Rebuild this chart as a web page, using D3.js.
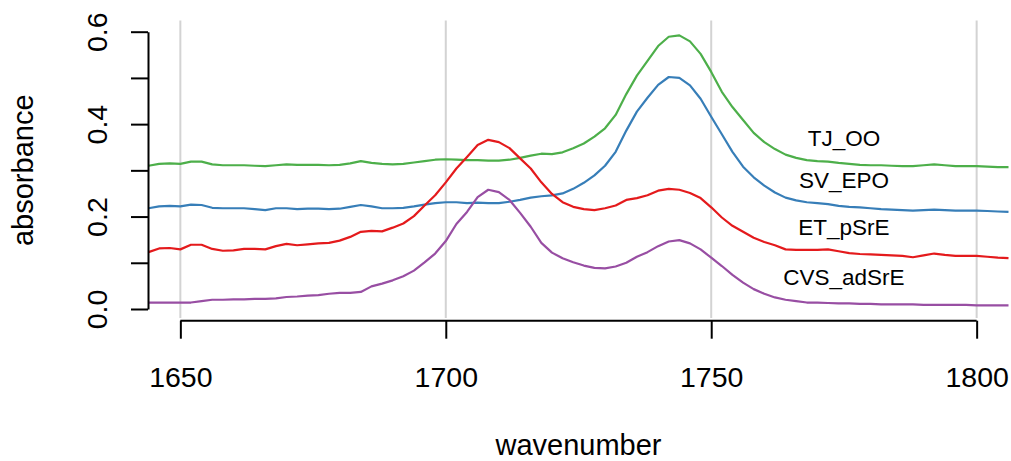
<!DOCTYPE html>
<html>
<head>
<meta charset="utf-8">
<script src="https://cdn.jsdelivr.net/npm/d3@7"></script>
<style>
  html, body { margin: 0; padding: 0; background: #fff; }
  svg { display: block; font-family: "Liberation Sans", Arial, Helvetica, sans-serif; }
</style>
</head>
<body>
<svg id="chart"></svg>
<script>
// wavenumber grid (cm-1)
const wavenumber = [
  1644, 1646, 1648, 1650, 1652, 1654, 1656, 1658, 1660, 1662,
  1664, 1666, 1668, 1670, 1672, 1674, 1676, 1678, 1680, 1682,
  1684, 1686, 1688, 1690, 1692, 1694, 1696, 1698, 1700, 1702,
  1704, 1706, 1708, 1710, 1712, 1714, 1716, 1718, 1720, 1722,
  1724, 1726, 1728, 1730, 1732, 1734, 1736, 1738, 1740, 1742,
  1744, 1746, 1748, 1750, 1752, 1754, 1756, 1758, 1760, 1762,
  1764, 1766, 1768, 1770, 1772, 1774, 1776, 1778, 1780, 1782,
  1784, 1786, 1788, 1790, 1792, 1794, 1796, 1798, 1800, 1802,
  1804, 1806
];

// absorbance of each sample
const TJ_OO = [
  0.310, 0.314, 0.315, 0.314, 0.319, 0.319, 0.313, 0.311, 0.311, 0.311,
  0.310, 0.309, 0.311, 0.313, 0.312, 0.312, 0.312, 0.311, 0.312, 0.315,
  0.320, 0.316, 0.314, 0.313, 0.314, 0.317, 0.320, 0.323, 0.324, 0.323,
  0.322, 0.322, 0.321, 0.321, 0.323, 0.327, 0.332, 0.336, 0.335, 0.339,
  0.348, 0.358, 0.373, 0.391, 0.420, 0.465, 0.505, 0.537, 0.569, 0.589,
  0.592, 0.579, 0.552, 0.513, 0.470, 0.437, 0.409, 0.381, 0.361, 0.346,
  0.334, 0.327, 0.322, 0.320, 0.319, 0.316, 0.314, 0.312, 0.311, 0.311,
  0.310, 0.309, 0.309, 0.311, 0.313, 0.311, 0.309, 0.309, 0.309, 0.308,
  0.307, 0.307
];
const SV_EPO = [
  0.218, 0.222, 0.223, 0.222, 0.226, 0.225, 0.219, 0.218, 0.218, 0.218,
  0.216, 0.214, 0.218, 0.218, 0.216, 0.217, 0.217, 0.216, 0.217, 0.221,
  0.225, 0.222, 0.218, 0.218, 0.219, 0.222, 0.226, 0.229, 0.231, 0.231,
  0.229, 0.230, 0.229, 0.229, 0.232, 0.236, 0.241, 0.244, 0.246, 0.250,
  0.260, 0.273, 0.289, 0.310, 0.340, 0.386, 0.427, 0.457, 0.485, 0.502,
  0.500, 0.484, 0.455, 0.416, 0.378, 0.340, 0.308, 0.285, 0.267, 0.252,
  0.241, 0.235, 0.231, 0.229, 0.227, 0.223, 0.221, 0.220, 0.218, 0.216,
  0.215, 0.214, 0.213, 0.214, 0.215, 0.214, 0.213, 0.213, 0.213, 0.212,
  0.211, 0.210
];
const ET_pSrE = [
  0.123, 0.131, 0.132, 0.129, 0.139, 0.139, 0.130, 0.126, 0.127, 0.130,
  0.130, 0.129, 0.136, 0.141, 0.138, 0.140, 0.142, 0.143, 0.148, 0.156,
  0.167, 0.169, 0.168, 0.176, 0.185, 0.201, 0.224, 0.246, 0.274, 0.304,
  0.329, 0.355, 0.366, 0.361, 0.348, 0.326, 0.304, 0.274, 0.249, 0.231,
  0.221, 0.216, 0.214, 0.218, 0.224, 0.236, 0.240, 0.246, 0.256, 0.260,
  0.258, 0.251, 0.240, 0.220, 0.198, 0.180, 0.167, 0.154, 0.145, 0.138,
  0.129, 0.128, 0.128, 0.128, 0.129, 0.125, 0.121, 0.119, 0.118, 0.117,
  0.116, 0.115, 0.112, 0.116, 0.120, 0.117, 0.115, 0.115, 0.115, 0.113,
  0.111, 0.110
];
const CVS_adSrE = [
  0.014, 0.014, 0.014, 0.014, 0.014, 0.017, 0.020, 0.020, 0.021, 0.021,
  0.022, 0.022, 0.023, 0.026, 0.027, 0.029, 0.030, 0.033, 0.035, 0.035,
  0.037, 0.049, 0.055, 0.062, 0.071, 0.083, 0.101, 0.120, 0.147, 0.184,
  0.210, 0.242, 0.258, 0.253, 0.236, 0.208, 0.178, 0.143, 0.122, 0.110,
  0.101, 0.094, 0.089, 0.088, 0.092, 0.100, 0.113, 0.123, 0.136, 0.146,
  0.149, 0.142, 0.129, 0.111, 0.093, 0.074, 0.057, 0.043, 0.033, 0.025,
  0.020, 0.017, 0.014, 0.014, 0.013, 0.012, 0.012, 0.011, 0.011, 0.010,
  0.010, 0.010, 0.010, 0.009, 0.009, 0.009, 0.009, 0.009, 0.008, 0.008,
  0.008, 0.008
];

const seriesNames = ["TJ_OO", "SV_EPO", "ET_pSrE", "CVS_adSrE"];
const seriesValues = [TJ_OO, SV_EPO, ET_pSrE, CVS_adSrE];
const seriesColors = ["#4DAF4A", "#377EB8", "#E41A1C", "#984EA3"];

// where the sample names sit (wavenumber, absorbance)
const labelX = 1775;
const labelY = [0.37, 0.278, 0.177, 0.069];

const xTicks = [1650, 1700, 1750, 1800];
const yTicks = [0, 0.1, 0.2, 0.3, 0.4, 0.5, 0.6];
const yLabelled = [0, 0.2, 0.4, 0.6];

const width = 1011;
const height = 461;
const plotTop = 20.5, plotBottom = 320;

const svg = d3.select("#chart")
  .attr("width", width)
  .attr("height", height);

const x = d3.scaleLinear()
  .domain(d3.extent(wavenumber))
  .range([148.5, 1008.5]);

const y = d3.scaleLinear()
  .domain([0, 0.6])
  .range([309, 31.7]);

// vertical grid lines
svg.append("g")
  .selectAll("line")
  .data(xTicks)
  .join("line")
  .attr("x1", d => x(d))
  .attr("x2", d => x(d))
  .attr("y1", plotTop)
  .attr("y2", plotBottom - 2)
  .attr("stroke", "#d3d3d3")
  .attr("stroke-width", 2);

// spectra
const line = d3.line()
  .x((d, i) => x(wavenumber[i]))
  .y(d => y(d));

svg.append("g")
  .selectAll("path")
  .data(seriesValues)
  .join("path")
  .attr("d", d => line(d))
  .attr("fill", "none")
  .attr("stroke", (d, i) => seriesColors[i])
  .attr("stroke-width", 2.2)
  .attr("stroke-linejoin", "round");

// sample names
svg.append("g")
  .selectAll("text")
  .data(seriesNames)
  .join("text")
  .attr("x", x(labelX))
  .attr("y", (d, i) => y(labelY[i]))
  .attr("dy", "0.35em")
  .attr("text-anchor", "middle")
  .attr("font-size", 22.5)
  .attr("fill", "#000")
  .text(d => d);

// y axis
const yAxis = svg.append("g")
  .attr("transform", "translate(148,0)")
  .call(d3.axisLeft(y)
    .tickValues(yTicks)
    .tickSize(17)
    .tickSizeOuter(0)
    .tickFormat(d => yLabelled.some(v => Math.abs(v - d) < 1e-9) ? d3.format(".1f")(d) : ""));

yAxis.selectAll("path, line")
  .attr("stroke", "#000")
  .attr("stroke-width", 2);

yAxis.selectAll("text")
  .attr("transform", "rotate(-90)")
  .attr("x", 0)
  .attr("y", -41.3)
  .attr("dy", 0)
  .attr("text-anchor", "middle")
  .attr("font-size", 28.5)
  .attr("fill", "#000");

// x axis, line only between the outer ticks
const xAxis = svg.append("g")
  .attr("transform", "translate(0,320.7)")
  .call(d3.axisBottom(x)
    .tickValues(xTicks)
    .tickSize(18)
    .tickFormat(d3.format("d")));

xAxis.select(".domain").remove();

xAxis.append("line")
  .attr("x1", x(xTicks[0]))
  .attr("x2", x(xTicks[xTicks.length - 1]))
  .attr("y1", 0)
  .attr("y2", 0);

xAxis.selectAll("line")
  .attr("stroke", "#000")
  .attr("stroke-width", 2);

xAxis.selectAll("text")
  .attr("y", 66)
  .attr("dy", 0)
  .attr("font-size", 28.5)
  .attr("fill", "#000");

// let the axes use the page font instead of d3's default
svg.selectAll("g").attr("font-family", null);

// axis titles
svg.append("text")
  .attr("x", (148.5 + 1008.5) / 2)
  .attr("y", 455)
  .attr("text-anchor", "middle")
  .attr("font-size", 29)
  .text("wavenumber");

svg.append("text")
  .attr("transform", "translate(33.3," + (plotTop + plotBottom) / 2 + ") rotate(-90)")
  .attr("text-anchor", "middle")
  .attr("font-size", 29)
  .text("absorbance");
</script>
</body>
</html>
